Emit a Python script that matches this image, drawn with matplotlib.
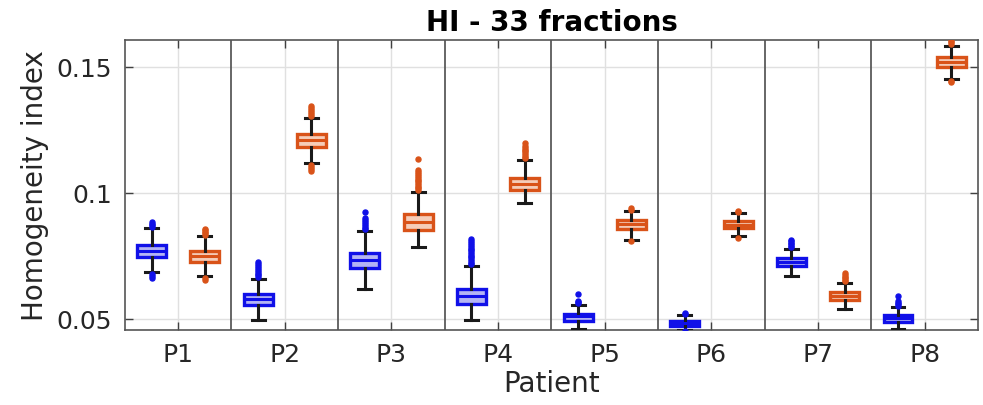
import matplotlib
matplotlib.use("Agg")
import matplotlib.pyplot as plt

# --- Data: box statistics per patient (read as quartiles / whiskers / outliers) ---

patients = ["P1", "P2", "P3", "P4", "P5", "P6", "P7", "P8"]

# first plan (blue)
blue_whislo = [0.0684, 0.0495, 0.0618, 0.0495, 0.0460, 0.0457, 0.0669, 0.0461]
blue_q1 = [0.0745, 0.0556, 0.0702, 0.0560, 0.0493, 0.0473, 0.0709, 0.0489]
blue_med = [0.0771, 0.0579, 0.0733, 0.0590, 0.0511, 0.0484, 0.0725, 0.0504]
blue_q3 = [0.0795, 0.0598, 0.0762, 0.0620, 0.0521, 0.0493, 0.0741, 0.0517]
blue_whishi = [0.0860, 0.0658, 0.0849, 0.0711, 0.0556, 0.0515, 0.0778, 0.0546]
blue_fliers = [
    [0.0866, 0.0872, 0.0878, 0.0884, 0.0676, 0.0669, 0.0663],
    [0.0665, 0.0672, 0.0679, 0.0686, 0.0693, 0.0700, 0.0708, 0.0716, 0.0725],
    [0.0855, 0.0862, 0.0870, 0.0878, 0.0886, 0.0894, 0.0902, 0.0923],
    [0.0716, 0.0723, 0.0730, 0.0737, 0.0744, 0.0751, 0.0758, 0.0765, 0.0772,
     0.0779, 0.0786, 0.0793, 0.0800, 0.0807, 0.0815],
    [0.0561, 0.0566, 0.0572, 0.0599],
    [0.0519, 0.0523, 0.0452],
    [0.0784, 0.0790, 0.0796, 0.0802, 0.0808, 0.0813],
    [0.0552, 0.0558, 0.0564, 0.0571, 0.0592],
]

# second plan (orange)
orange_whislo = [0.0669, 0.1118, 0.0784, 0.0959, 0.0813, 0.0828, 0.0538, 0.1452]
orange_q1 = [0.0725, 0.1181, 0.0853, 0.1013, 0.0856, 0.0861, 0.0573, 0.1501]
orange_med = [0.0749, 0.1210, 0.0884, 0.1036, 0.0877, 0.0874, 0.0591, 0.1520]
orange_q3 = [0.0769, 0.1234, 0.0915, 0.1061, 0.0892, 0.0888, 0.0608, 0.1538]
orange_whishi = [0.0828, 0.1299, 0.1005, 0.1131, 0.0927, 0.0919, 0.0643, 0.1585]
orange_fliers = [
    [0.0834, 0.0840, 0.0846, 0.0852, 0.0857, 0.0663, 0.0655],
    [0.1305, 0.1312, 0.1320, 0.1328, 0.1337, 0.1346, 0.1112, 0.1104, 0.1096, 0.1088],
    [0.1011, 0.1018, 0.1025, 0.1032, 0.1039, 0.1046, 0.1053, 0.1060, 0.1067,
     0.1074, 0.1081, 0.1092, 0.1135],
    [0.1137, 0.1144, 0.1151, 0.1158, 0.1165, 0.1172, 0.1179, 0.1186, 0.1197],
    [0.0933, 0.0939, 0.0807],
    [0.0924, 0.0929, 0.0821],
    [0.0649, 0.0655, 0.0661, 0.0667, 0.0674, 0.0681],
    [0.1591, 0.1598, 0.1605, 0.1446, 0.1440],
]

yticks = [0.05, 0.1, 0.15]
ytick_labels = ["0.05", "0.1", "0.15"]

BLUE = "#1010e8"
BLUE_FILL = "#b4b4f4"
ORANGE = "#d95319"
ORANGE_FILL = "#f5cdb9"


def make_stats(whislo, q1, med, q3, whishi, fliers):
    """Build the list of dicts that Axes.bxp expects."""
    return [dict(whislo=a, q1=b, med=c, q3=d, whishi=e, fliers=f)
            for a, b, c, d, e, f in zip(whislo, q1, med, q3, whishi, fliers)]


def draw_group(ax, stats, positions, color, fill):
    ax.bxp(stats, positions=positions, widths=0.27, capwidths=0.12,
           patch_artist=True, manage_ticks=False,
           boxprops=dict(facecolor=fill, edgecolor=color, linewidth=2.4),
           medianprops=dict(color=color, linewidth=2.2),
           whiskerprops=dict(color="#1a1a1a", linewidth=2.2),
           capprops=dict(color="#1a1a1a", linewidth=2.2),
           flierprops=dict(marker="o", markersize=3.6, markerfacecolor=color,
                           markeredgecolor=color, linestyle="none"),
           zorder=3)


fig = plt.figure(figsize=(9.83, 4.06), dpi=100)
ax = fig.add_axes([0.127, 0.185, 0.868, 0.714])

x = list(range(1, len(patients) + 1))
draw_group(ax, make_stats(blue_whislo, blue_q1, blue_med, blue_q3, blue_whishi, blue_fliers),
           [p - 0.25 for p in x], BLUE, BLUE_FILL)
draw_group(ax, make_stats(orange_whislo, orange_q1, orange_med, orange_q3, orange_whishi,
                          orange_fliers),
           [p + 0.25 for p in x], ORANGE, ORANGE_FILL)

# separators between patients
for p in x[:-1]:
    ax.axvline(p + 0.5, color="#5a5a5a", linewidth=1.3, zorder=2)

ax.set_xlim(0.5, len(patients) + 0.5)
ax.set_ylim(0.0456, 0.1607)
ax.set_xticks(x)
ax.set_xticklabels(patients)
ax.set_yticks(yticks)
ax.set_yticklabels(ytick_labels)

ax.grid(True, color="#e0e0e0", linewidth=1.0, zorder=0)
ax.set_axisbelow(True)
ax.tick_params(direction="in", top=True, right=True, length=6, width=1.0,
               color="#404040", labelcolor="#262626", labelsize=18)
ax.tick_params(axis="x", pad=9)
ax.tick_params(axis="y", pad=9)
for s in ax.spines.values():
    s.set_color("#555555")
    s.set_linewidth(1.2)

ax.set_xlabel("Patient", fontsize=20, color="#262626", labelpad=2)
ax.set_ylabel("Homogeneity index", fontsize=20, color="#262626", labelpad=6)
ax.set_title("HI - 33 fractions", fontsize=20, fontweight="bold", pad=7)

fig.savefig("out.png", dpi=100)
